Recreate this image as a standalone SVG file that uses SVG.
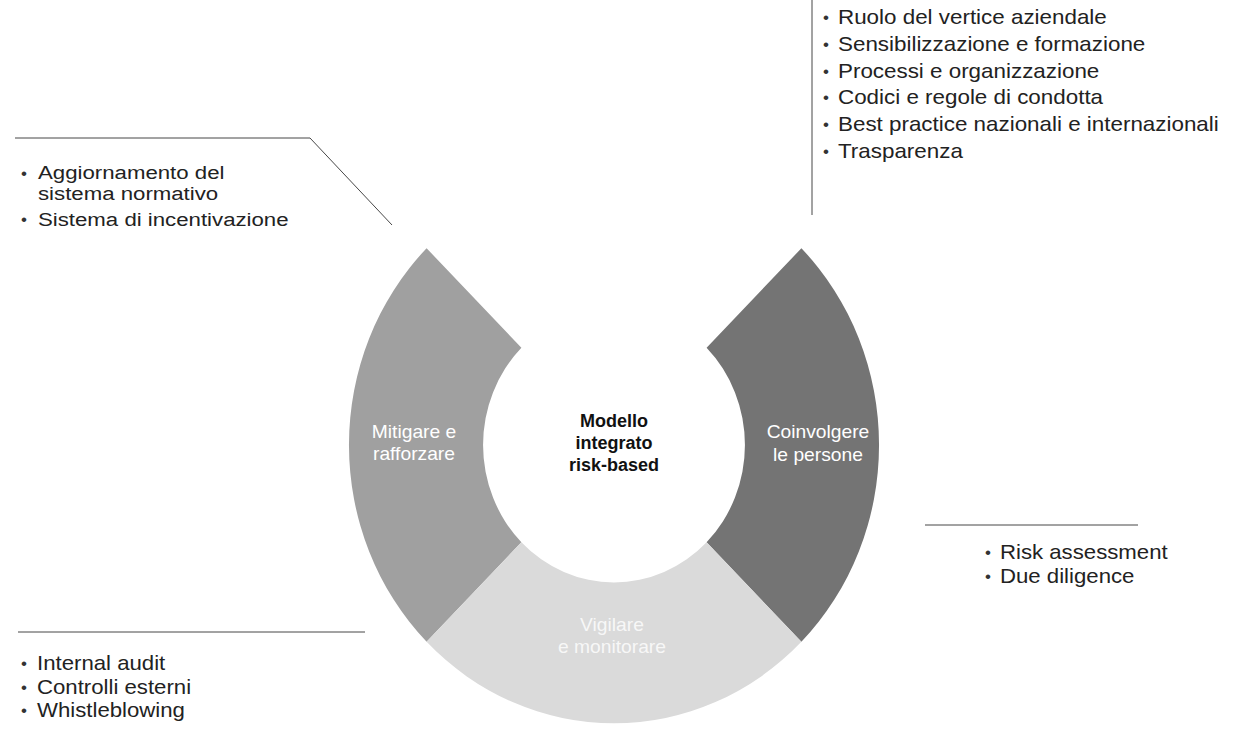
<svg xmlns="http://www.w3.org/2000/svg" width="1247" height="729" viewBox="0 0 1247 729">
  <style>
    .bg { fill: #ffffff; }
    .lead { stroke: #474747; stroke-width: 1; fill: none; }
    .item { font-family: "Liberation Sans", Arial, sans-serif; font-size: 20px; fill: #222222; }
    .item-tight { font-family: "Liberation Sans", Arial, sans-serif; font-size: 19px; fill: #222222; }
    .dot { font-family: "Liberation Sans", Arial, sans-serif; font-size: 17px; fill: #333333; }
    .seg-label { font-family: "Liberation Sans", Arial, sans-serif; font-size: 17.5px; fill: #ffffff; text-anchor: middle; }
    .hub { font-family: "Liberation Sans", Arial, sans-serif; font-size: 18px; font-weight: bold; fill: #111111; text-anchor: middle; }
  </style>

  <rect class="bg" x="0" y="0" width="1247" height="729"/>

  <!-- ring segments, drawn around the hub centre -->
  <g id="ring" transform="translate(614,445) scale(1,1.05)">
    <g id="seg-mitigare">
      <path fill="#a0a0a0" d="M -187.4,-187.4 A 265 265 0 0 0 -187.4,187.4 L -92.6,92.6 A 131 131 0 0 1 -92.6,-92.6 Z"/>
    </g>
    <g id="seg-coinvolgere">
      <path fill="#747474" d="M 187.4,-187.4 A 265 265 0 0 1 187.4,187.4 L 92.6,92.6 A 131 131 0 0 0 92.6,-92.6 Z"/>
    </g>
    <g id="seg-bottom">
      <path fill="#dadada" d="M 187.4,187.4 A 265 265 0 0 1 -187.4,187.4 L -92.6,92.6 A 131 131 0 0 0 92.6,92.6 Z"/>
    </g>
  </g>

  <!-- segment labels (slightly widened lettering) -->
  <g id="label-mitigare" transform="translate(414,0) scale(1.1,1)">
    <text class="seg-label" x="0" y="438">Mitigare e</text>
    <text class="seg-label" x="0" y="460">rafforzare</text>
  </g>
  <g id="label-coinvolgere" transform="translate(818,0) scale(1.1,1)">
    <text class="seg-label" x="0" y="438">Coinvolgere</text>
    <text class="seg-label" x="0" y="461">le persone</text>
  </g>
  <g id="label-bottom" transform="translate(612,0) scale(1.1,1)" opacity="0.8">
    <text class="seg-label" x="0" y="631">Vigilare</text>
    <text class="seg-label" x="0" y="653">e monitorare</text>
  </g>

  <!-- hub -->
  <g id="hub">
    <text class="hub" x="614" y="427">Modello</text>
    <text class="hub" x="614" y="449">integrato</text>
    <text class="hub" x="614" y="471">risk-based</text>
  </g>

  <!-- leader lines -->
  <g id="connectors">
    <polyline class="lead" points="15,138 310,138 392,225"/>
    <line class="lead" x1="812" y1="0" x2="812" y2="215"/>
    <line class="lead" x1="925" y1="525" x2="1138" y2="525"/>
    <line class="lead" x1="18" y1="632" x2="365" y2="632"/>
  </g>

  <!-- lists -->
  <g id="list-top-left">
    <text class="dot" x="21" y="179">•</text>
    <text class="dot" x="21" y="225">•</text>
    <g transform="translate(38,0) scale(1.17,1)">
      <text class="item-tight" x="0" y="179">Aggiornamento del</text>
      <text class="item-tight" x="0" y="200">sistema normativo</text>
      <text class="item-tight" x="0" y="226">Sistema di incentivazione</text>
    </g>
  </g>

  <g id="list-top-right">
    <text class="dot" x="823" y="23">•</text>
    <text class="dot" x="823" y="50">•</text>
    <text class="dot" x="823" y="77">•</text>
    <text class="dot" x="823" y="103">•</text>
    <text class="dot" x="823" y="130">•</text>
    <text class="dot" x="823" y="157">•</text>
    <g transform="translate(838,0) scale(1.12,1)">
      <text class="item" x="0" y="24">Ruolo del vertice aziendale</text>
      <text class="item" x="0" y="51">Sensibilizzazione e formazione</text>
      <text class="item" x="0" y="78">Processi e organizzazione</text>
      <text class="item" x="0" y="104">Codici e regole di condotta</text>
      <text class="item" x="0" y="131">Best practice nazionali e internazionali</text>
      <text class="item" x="0" y="158">Trasparenza</text>
    </g>
  </g>

  <g id="list-right">
    <text class="dot" x="985" y="558">•</text>
    <text class="dot" x="985" y="582">•</text>
    <g transform="translate(1000,0) scale(1.11,1)">
      <text class="item" x="0" y="559">Risk assessment</text>
      <text class="item" x="0" y="583">Due diligence</text>
    </g>
  </g>

  <g id="list-bottom-left">
    <text class="dot" x="21" y="669">•</text>
    <text class="dot" x="21" y="693">•</text>
    <text class="dot" x="21" y="716">•</text>
    <g transform="translate(37,0) scale(1.11,1)">
      <text class="item" x="0" y="670">Internal audit</text>
      <text class="item" x="0" y="694">Controlli esterni</text>
      <text class="item" x="0" y="717">Whistleblowing</text>
    </g>
  </g>
</svg>
